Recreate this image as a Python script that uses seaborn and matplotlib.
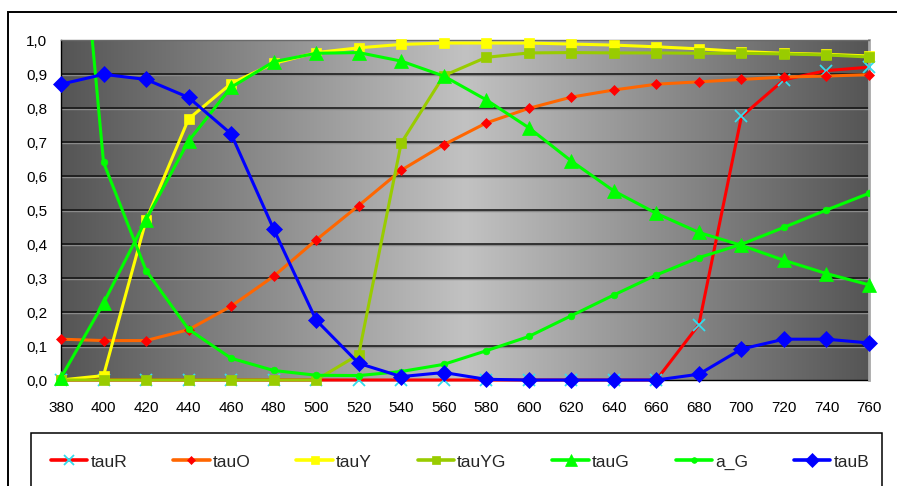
import numpy as np
import pandas as pd
import matplotlib
matplotlib.use("Agg")
import matplotlib.pyplot as plt
from matplotlib.patches import Rectangle
from matplotlib.lines import Line2D
from matplotlib.colors import LinearSegmentedColormap
import seaborn as sns

# Wavelength grid (nm)
wavelength = [380, 400, 420, 440, 460, 480, 500, 520, 540, 560,
              580, 600, 620, 640, 660, 680, 700, 720, 740, 760]

# Transmission / absorption curves
tauR = [0.0, 0.0, 0.0, 0.0, 0.0, 0.0, 0.0, 0.0, 0.0, 0.0,
        0.0, 0.0, 0.0, 0.0, 0.0, 0.163, 0.775, 0.883, 0.910, 0.920]
tauO = [0.120, 0.116, 0.116, 0.148, 0.217, 0.305, 0.412, 0.513, 0.617, 0.692,
        0.756, 0.799, 0.832, 0.853, 0.870, 0.877, 0.884, 0.891, 0.894, 0.898]
tauY = [0.0, 0.013, 0.470, 0.768, 0.872, 0.931, 0.963, 0.977, 0.987, 0.991,
        0.991, 0.991, 0.988, 0.985, 0.980, 0.974, 0.966, 0.961, 0.958, 0.953]
tauYG = [0.0, 0.0, 0.0, 0.0, 0.0, 0.0, 0.0, 0.075, 0.697, 0.895,
         0.949, 0.962, 0.963, 0.962, 0.962, 0.961, 0.961, 0.959, 0.956, 0.950]
tauG = [0.007, 0.226, 0.472, 0.703, 0.861, 0.936, 0.961, 0.963, 0.938, 0.894,
        0.824, 0.742, 0.644, 0.556, 0.490, 0.434, 0.396, 0.352, 0.313, 0.280]
a_G = [2.000, 0.640, 0.322, 0.149, 0.064, 0.028, 0.014, 0.013, 0.025, 0.046,
       0.086, 0.128, 0.189, 0.250, 0.309, 0.360, 0.399, 0.449, 0.500, 0.549]
tauB = [0.870, 0.899, 0.884, 0.831, 0.724, 0.444, 0.176, 0.049, 0.010, 0.022,
        0.002, 0.0, 0.0, 0.0, 0.0, 0.017, 0.091, 0.120, 0.120, 0.109]

series_names = ["tauR", "tauO", "tauY", "tauYG", "tauG", "a_G", "tauB"]
series_values = [tauR, tauO, tauY, tauYG, tauG, a_G, tauB]

# line colour, marker, marker size, marker face colour
styles = {
    "tauR":  dict(color="#FF0000", marker="x", ms=9, mfc="#33DDEE", mec="#33DDEE", mew=1.3),
    "tauO":  dict(color="#FF6600", marker="D", ms=5, mfc="#FF0000", mec="#FF0000", mew=0.5),
    "tauY":  dict(color="#FFFF00", marker="s", ms=7.5, mfc="#FFFF00", mec="#FFFF00", mew=0.5),
    "tauYG": dict(color="#99CC00", marker="s", ms=7.5, mfc="#99CC00", mec="#99CC00", mew=0.5),
    "tauG":  dict(color="#00FF00", marker="^", ms=9.5, mfc="#00FF00", mec="#00FF00", mew=0.5),
    "a_G":   dict(color="#00FF00", marker="o", ms=4.8, mfc="#00FF00", mec="#00FF00", mew=0.5),
    "tauB":  dict(color="#0000FF", marker="D", ms=8, mfc="#0000FF", mec="#0000FF", mew=0.5),
}

df = pd.DataFrame({"wavelength": wavelength})
for name, vals in zip(series_names, series_values):
    df[name] = vals

sns.set_style("white")
plt.rcParams["font.family"] = ["Liberation Sans", "DejaVu Sans"]
plt.rcParams["font.size"] = 11

W, H = 897, 486
fig = plt.figure(figsize=(W / 100, H / 100), dpi=100)
fig.patch.set_facecolor("white")

# outer chart frame
fig.patches.append(Rectangle((8 / W, -0.1), 1.2, 1 - 12 / H + 0.1,
                             transform=fig.transFigure, fill=False,
                             edgecolor="black", linewidth=1.4, zorder=0))
# legend frame
fig.patches.append(Rectangle((31 / W, -0.1), (882 - 31) / W, 1 - 433 / H + 0.1,
                             transform=fig.transFigure, fill=False,
                             edgecolor="black", linewidth=1.1, zorder=0))

left, right, top, bottom = 61, 869, 40, 380
ax = fig.add_axes([left / W, 1 - bottom / H, (right - left) / W, (bottom - top) / H])

# horizontal gradient: dark edges, light centre
cmap = LinearSegmentedColormap.from_list(
    "bg", ["#555555", "#C2C2C2", "#555555"])
grad = np.linspace(0, 1, 512).reshape(1, -1)
ax.imshow(grad, cmap=cmap, extent=[380, 760, 0, 1], aspect="auto",
          zorder=0, interpolation="bicubic")

# grid lines with a soft shadow beneath
for yv in np.arange(0.1, 1.0, 0.1):
    ax.axhline(yv - 0.004, color="#8a8a8a", lw=1.0, zorder=1)
    ax.axhline(yv, color="#111111", lw=1.1, zorder=1)

for name in series_names:
    st = styles[name]
    sns.lineplot(data=df, x="wavelength", y=name, ax=ax, color=st["color"],
                 linewidth=2.2, marker=st["marker"], markersize=st["ms"],
                 markerfacecolor=st["mfc"], markeredgecolor=st["mec"],
                 markeredgewidth=st["mew"], zorder=3,
                 clip_on=(name == "a_G"))

ax.set_xlim(380, 760)
ax.set_ylim(0, 1.0)
ax.set_xticks(wavelength)
ax.set_xticklabels([str(w) for w in wavelength])
yt = np.round(np.arange(0, 1.01, 0.1), 1)
ax.set_yticks(yt)
ax.set_yticklabels([f"{v:.1f}".replace(".", ",") for v in yt])
ax.set_xlabel("")
ax.set_ylabel("")
ax.tick_params(axis="x", direction="out", length=4, width=1, pad=11, colors="black")
ax.tick_params(axis="y", direction="out", length=4, width=1, pad=6, colors="black")
ax.tick_params(labelsize=11, labelcolor="black")

for s in ["left", "bottom"]:
    ax.spines[s].set_color("black")
    ax.spines[s].set_linewidth(1.0)
    ax.spines[s].set_zorder(2)
ax.spines["right"].set_color("#A8A8A8")
ax.spines["right"].set_linewidth(2.0)
ax.spines["top"].set_color("#6a6a6a")
ax.spines["top"].set_linewidth(1.0)

handles = []
for name in series_names:
    st = styles[name]
    handles.append(Line2D([], [], color=st["color"], linewidth=2.6,
                          marker=st["marker"], markersize=st["ms"] * 0.85,
                          markerfacecolor=st["mfc"], markeredgecolor=st["mec"],
                          markeredgewidth=st["mew"]))
fig.legend(handles, series_names, loc="center left",
           bbox_to_anchor=(51 / W, 1 - 462 / H), ncol=7, frameon=False,
           handlelength=2.1, handletextpad=0.17, columnspacing=2.65,
           borderpad=0, borderaxespad=0, fontsize=12.5)

fig.savefig("out.png", dpi=100)
